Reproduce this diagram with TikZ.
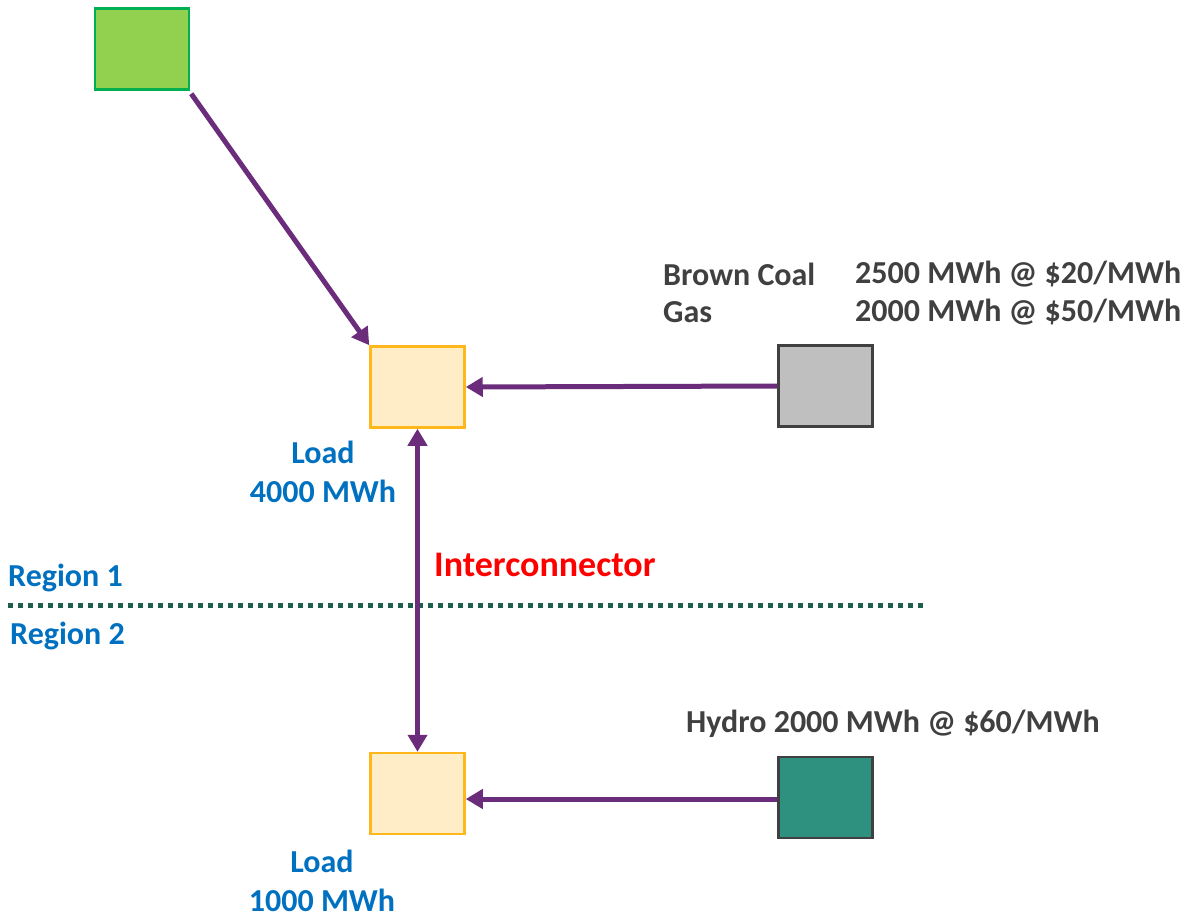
\documentclass[tikz,border=0pt]{standalone}
\usepackage{fontspec}
\setmainfont{Carlito}
\usetikzlibrary{arrows.meta}
\definecolor{flow}{HTML}{6B2C7B}
\definecolor{loadfill}{HTML}{FFEDC7}
\definecolor{loaddraw}{HTML}{FFB81C}
\definecolor{greenfill}{HTML}{92D050}
\definecolor{greendraw}{HTML}{00B050}
\definecolor{grayfill}{HTML}{BFBFBF}
\definecolor{boxdraw}{HTML}{404040}
\definecolor{hydrofill}{HTML}{2E9180}
\definecolor{bluetxt}{HTML}{0070C0}
\definecolor{graytxt}{HTML}{404040}
\definecolor{dotline}{HTML}{1F5F4F}
\tikzset{
  box/.style={draw, line width=2.5pt, minimum width=94pt, minimum height=81pt, inner sep=0pt},
  flowline/.style={draw=flow, line width=5pt, -{Triangle[length=17pt,width=19pt]}},
  bluelbl/.style={text=bluetxt, font=\fontsize{32}{39}\selectfont\bfseries, align=center, inner sep=0pt},
  graylbl/.style={text=graytxt, font=\fontsize{32}{40}\selectfont\bfseries, anchor=west, inner sep=0pt},
}
\begin{document}
\begin{tikzpicture}[x=1pt,y=-1pt]
\useasboundingbox (0,0) rectangle (1185,918);
\node[box, draw=greendraw, fill=greenfill] (green) at (142,49) {};
\node[box, draw=loaddraw, fill=loadfill] (load1) at (417.5,387) {};
\node[box, draw=boxdraw, fill=grayfill] (coal) at (825.5,386) {};
\node[box, draw=loaddraw, fill=loadfill] (load2) at (417.5,793.5) {};
\node[box, draw=boxdraw, fill=hydrofill] (hydro) at (825.5,797.5) {};
% dotted region line
\coordinate (dl) at (8,605);
\coordinate (dr) at (923,605);
\draw[dotline, line width=5pt, dash pattern=on 5pt off 5pt] (dl) -- (dr);
% connectors
\draw[flowline] (green.south east) ++(1,3) -- (load1.north west);
\draw[flowline] (coal.west) -- (load1.east);
\draw[flowline] (hydro.west |- 0,799) -- (load2.east |- 0,799);
\draw[flowline, {Triangle[length=17pt,width=19pt]}-{Triangle[length=17pt,width=19pt]}] (load1.south) -- (load2.north);
% labels
\node[bluelbl] (l1) at (323,472) {Load\\4000 MWh};
\node[bluelbl] (l2) at (322,881) {Load\\1000 MWh};
\node[bluelbl, anchor=west] (r1) at (8,578) {Region 1};
\node[bluelbl, anchor=west] (r2) at (10,636) {Region 2};
\node[text=red, font=\fontsize{36}{40}\selectfont\bfseries, anchor=west, inner sep=0pt] (ic) at (434,565) {Interconnector};
\node[graylbl] (bc) at (663,274) {Brown Coal};
\node[graylbl] (gas) at (663,312) {Gas};
\node[graylbl] (bcv) at (855,274) {2500 MWh @ \$20/MWh};
\node[graylbl] (gasv) at (855,312) {2000 MWh @ \$50/MWh};
\node[graylbl] (hy) at (686,724) {Hydro 2000 MWh @ \$60/MWh};
\end{tikzpicture}
\end{document}
